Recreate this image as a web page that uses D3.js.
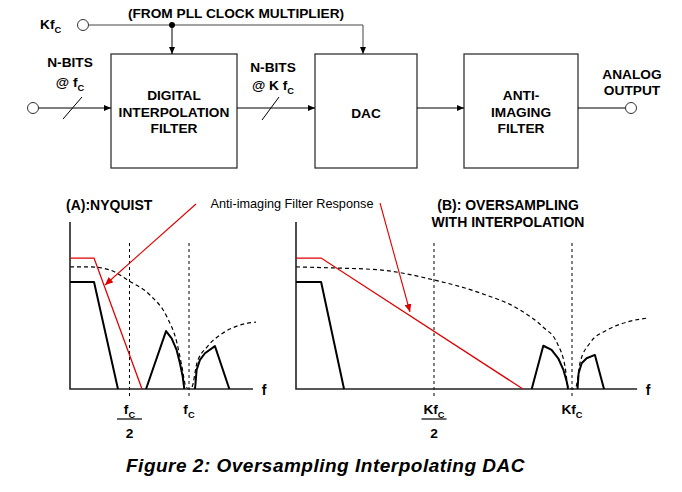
<!DOCTYPE html>
<html><head><meta charset="utf-8">
<script src="https://cdn.jsdelivr.net/npm/d3@7"></script>
<style>
body{margin:0;background:#fff}
svg{display:block}
text{font-family:"Liberation Sans",Arial,Helvetica,sans-serif;fill:#000}
</style>
</head><body>
<svg id="c" width="682" height="492"></svg>
<script>
// ---------------- DATA ----------------
const clockLabel = "(FROM PLL CLOCK MULTIPLIER)";
const blockLabels = [["DIGITAL","INTERPOLATION","FILTER"],["DAC"],["ANTI-","IMAGING","FILTER"]];
const outputLabel = ["ANALOG","OUTPUT"];
const titleA = ["(A):NYQUIST"];
const titleB = ["(B): OVERSAMPLING","WITH INTERPOLATION"];
const annotation = "Anti-imaging Filter Response";
const caption = "Figure 2: Oversampling Interpolating DAC";
const markerFreqs = [0.5, 1.0];           // fc/2, fc  (A)  and Kfc/2, Kfc (B)
const tickMainA = ["f","f"], tickMainB = ["Kf","Kf"];
const axisMaxA = 1.538, axisMaxB = 1.236;
// A: frequency in units of fc, amplitude 0..1 (top of axis)
const filterA   = [[0,0.784],[0.202,0.784],[0.605,0]];
const basebandA = [[0,0.641],[0.202,0.641],[0.403,0]];
const image1A   = [[0.639,0],[0.807,0.347],[0.854,0.303],[0.896,0.234],[0.924,0.154],[0.947,0.074],[0.958,0.014],[0.96,0]];
const image2A   = [[1.050,0],[1.053,0.02],[1.064,0.114],[1.092,0.174],[1.134,0.214],[1.218,0.257],[1.339,0]];
const envelopeA = [[0,0.731],[0.168,0.731],[0.336,0.713],[0.496,0.647],[0.672,0.563],[0.815,0.431],[0.899,0.275],[0.941,0.132],[0.975,0.012],[1.0,0],
                   [1.025,0.012],[1.067,0.156],[1.151,0.251],[1.286,0.335],[1.429,0.383],[1.563,0.401]];
// B: frequency in units of Kfc
const filterB   = [[0,0.784],[0.091,0.784],[0.822,0]];
const basebandB = [[0,0.641],[0.091,0.641],[0.174,0]];
const image1B   = [[0.854,0],[0.896,0.259],[0.926,0.234],[0.950,0.184],[0.969,0.114],[0.981,0.044],[0.986,0]];
const image2B   = [[1.020,0],[1.024,0.094],[1.035,0.154],[1.053,0.184],[1.083,0.204],[1.116,0]];
const envelopeB = [[0,0.731],[0.134,0.725],[0.304,0.713],[0.5,0.653],[0.667,0.575],[0.812,0.473],[0.895,0.371],[0.946,0.275],[0.975,0.132],[0.986,0.012],[1.0,0],
                   [1.014,0.012],[1.029,0.156],[1.065,0.275],[1.127,0.353],[1.199,0.401],[1.275,0.425]];

// ---------------- DRAW ----------------
const svg = d3.select("#c");
const defs = svg.append("defs");
function marker(id, color, w, h){
  defs.append("marker").attr("id",id).attr("viewBox",`0 0 ${w} ${h}`).attr("refX",w).attr("refY",h/2)
    .attr("markerWidth",w).attr("markerHeight",h).attr("markerUnits","userSpaceOnUse").attr("orient","auto")
    .append("path").attr("d",`M0,0L${w},${h/2}L0,${h}Z`).attr("fill",color);
}
marker("ab","#000",7,6);
marker("ar","#e00000",8,7);

function txt(g,x,y,s,size,opts={}){
  const t = g.append("text").attr("x",x).attr("y",y).attr("text-anchor",opts.anchor||"middle")
    .attr("font-size",size).attr("font-weight",opts.weight||"bold")
    .attr("font-style",opts.style||"normal").text(s);
  if(opts.ls) t.attr("letter-spacing",opts.ls);
  return t;
}
function subTxt(g,x,y,main,sub,size,anchor="middle"){
  const t = g.append("text").attr("x",x).attr("y",y).attr("text-anchor",anchor)
    .attr("font-size",size).attr("font-weight","bold");
  t.append("tspan").text(main);
  t.append("tspan").attr("font-size",size*0.68).attr("dy",size*0.3).text(sub);
  return t;
}

// ---- Block diagram ----
const bd = svg.append("g");
const boxes = [{x:111,w:126},{x:315,w:102},{x:464,w:114}];
const boxY = 54, boxH = 114, midY = 108;
boxes.forEach((b,i)=>{
  bd.append("rect").attr("x",b.x).attr("y",boxY).attr("width",b.w).attr("height",boxH)
    .attr("fill","none").attr("stroke","#333").attr("stroke-width",1.3);
  const lines = blockLabels[i];
  const cx = b.x + b.w/2;
  const y0 = lines.length===1 ? 118 : 100;
  lines.forEach((s,j)=>txt(bd,cx,y0+j*16.5,s,13.7));
});
// clock line
bd.append("circle").attr("cx",83).attr("cy",25).attr("r",5.5).attr("fill","#fff").attr("stroke","#333").attr("stroke-width",1);
bd.append("path").attr("d","M88.5,25H363V54").attr("fill","none").attr("stroke","#444").attr("stroke-width",1).attr("marker-end","url(#ab)");
bd.append("line").attr("x1",172).attr("y1",25).attr("x2",172).attr("y2",54).attr("stroke","#000").attr("stroke-width",1).attr("marker-end","url(#ab)");
bd.append("circle").attr("cx",172).attr("cy",25).attr("r",3).attr("fill","#000");
txt(bd,236,18,clockLabel,13.7);
subTxt(bd,40,29,"Kf","C",13.7,"start");
// signal path
bd.append("circle").attr("cx",33).attr("cy",midY).attr("r",5.5).attr("fill","#fff").attr("stroke","#333");
bd.append("line").attr("x1",38.5).attr("y1",midY).attr("x2",111).attr("y2",midY).attr("stroke","#000").attr("marker-end","url(#ab)");
bd.append("line").attr("x1",237).attr("y1",midY).attr("x2",315).attr("y2",midY).attr("stroke","#000").attr("marker-end","url(#ab)");
bd.append("line").attr("x1",417).attr("y1",midY).attr("x2",464).attr("y2",midY).attr("stroke","#000").attr("marker-end","url(#ab)");
bd.append("line").attr("x1",578).attr("y1",midY).attr("x2",626).attr("y2",midY).attr("stroke","#000");
bd.append("circle").attr("cx",631).attr("cy",midY).attr("r",5.5).attr("fill","#fff").attr("stroke","#333");
[[63,119,82,97],[262,120,279,97]].forEach(s=>bd.append("line").attr("x1",s[0]).attr("y1",s[1]).attr("x2",s[2]).attr("y2",s[3]).attr("stroke","#000"));
txt(bd,70,67,"N-BITS",13.7);
subTxt(bd,70,87,"@ f","C",13.7);
txt(bd,273,72,"N-BITS",13.7);
subTxt(bd,273,90,"@ K f","C",13.7);
outputLabel.forEach((s,j)=>txt(bd,632,79+j*16,s,13.7));

// ---- Spectrum panels ----
function panel(o){
  const g = svg.append("g");
  const x = d3.scaleLinear().domain([0,1]).range([o.x0,o.x1]);
  const y = d3.scaleLinear().domain([0,1]).range([389,222]);
  const lin = d3.line().x(d=>x(d[0])).y(d=>y(d[1]));
  const smooth = d3.line().x(d=>x(d[0])).y(d=>y(d[1])).curve(d3.curveMonotoneX);
  o.marks.forEach((m,i)=>{
    g.append("line").attr("x1",x(m)).attr("x2",x(m)).attr("y1",y(0.874)).attr("y2",y(-0.06))
      .attr("stroke","#000").attr("stroke-width",1).attr("stroke-dasharray","3,3");
    subTxt(g,x(m),414,o.ticks[i],"C",13.7);
  });
  const fx = x(o.marks[0]);
  g.append("line").attr("x1",fx-12.5).attr("x2",fx+12.5).attr("y1",419).attr("y2",419).attr("stroke","#000").attr("stroke-width",1.2);
  txt(g,fx,438,"2",13.7);
  g.append("path").attr("d",smooth(o.env)).attr("fill","none").attr("stroke","#000").attr("stroke-width",1.2).attr("stroke-dasharray","4,3");
  g.append("path").attr("d",`M${x(0)},${y(1)}V${y(0)}H${x(o.axMax)}`).attr("fill","none").attr("stroke","#222").attr("stroke-width",1.6);
  txt(g,x(o.axMax)+11,395,"f",14);
  [o.base,o.im1,o.im2].forEach(d=>g.append("path").attr("d",lin(d)).attr("fill","none").attr("stroke","#000").attr("stroke-width",2).attr("stroke-linejoin","round"));
  g.append("path").attr("d",lin(o.filt)).attr("fill","none").attr("stroke","#e00000").attr("stroke-width",1.3);
  return {x,y};
}
panel({x0:70,x1:189,axMax:axisMaxA,marks:markerFreqs,ticks:tickMainA,env:envelopeA,base:basebandA,im1:image1A,im2:image2A,filt:filterA});
panel({x0:296,x1:572,axMax:axisMaxB,marks:markerFreqs,ticks:tickMainB,env:envelopeB,base:basebandB,im1:image1B,im2:image2B,filt:filterB});

// titles
txt(svg,66,210,titleA[0],14,{anchor:"start"});
titleB.forEach((s,j)=>txt(svg,508,210+j*16.5,s,14));
// annotation
txt(svg,292,208,annotation,12.7,{weight:"normal"});
svg.append("line").attr("x1",196).attr("y1",204).attr("x2",105).attr("y2",285).attr("stroke","#e00000").attr("stroke-width",1.1).attr("marker-end","url(#ar)");
svg.append("line").attr("x1",380).attr("y1",203).attr("x2",410).attr("y2",312).attr("stroke","#e00000").attr("stroke-width",1.1).attr("marker-end","url(#ar)");
// caption
txt(svg,325.5,472,caption,19,{style:"italic",ls:0.5});
</script>
</body></html>
